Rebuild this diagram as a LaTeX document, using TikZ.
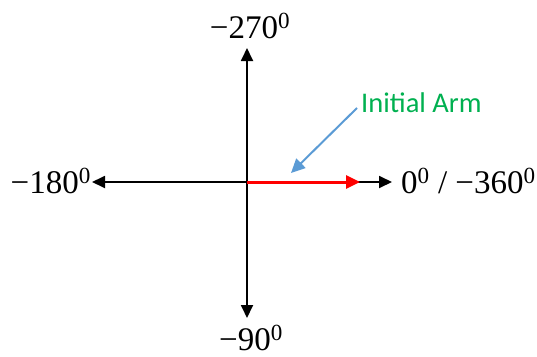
\documentclass[tikz,border=0pt]{standalone}
\usepackage{fontspec}
\setmainfont{Liberation Serif}
\newfontfamily\armfont{Carlito}
\usetikzlibrary{arrows.meta}

\definecolor{armgreen}{RGB}{0,176,80}
\definecolor{pointerblue}{RGB}{91,155,213}

\tikzset{
  axis/.style={line width=1.8pt, -{Triangle[length=13pt,width=12pt]}},
  anglelabel/.style={font=\fontsize{33}{33}\selectfont, inner sep=0pt},
}

\begin{document}
\begin{tikzpicture}[x=1pt, y=-1pt]
  \useasboundingbox (0,0) rectangle (537,356);

  % ================================================================
  % Axes
  % ================================================================

  \coordinate (O) at (247,182);
  \coordinate (westtip)  at (92,182);
  \coordinate (easttip)  at (392,182);
  \coordinate (northtip) at (247,48);
  \coordinate (southtip) at (247,318);

  \draw[axis] (O) -- (westtip);
  \draw[axis] (O) -- (easttip);
  \draw[axis] (O) -- (northtip);
  \draw[axis] (O) -- (southtip);

  % ================================================================
  % Angle labels
  % ================================================================

  \node[anglelabel, anchor=base east] (west) at (91,193)
    {\textminus180\textsuperscript{0}};
  \node[anglelabel, anchor=base west] (east) at (401,193)
    {0\textsuperscript{0} / \textminus360\textsuperscript{0}};
  \node[anglelabel, anchor=base] (north) at (250,38)
    {\textminus270\textsuperscript{0}};
  \node[anglelabel, anchor=base] (south) at (251,350)
    {\textminus90\textsuperscript{0}};

  % ================================================================
  % Initial arm (red) and its pointer
  % ================================================================

  \coordinate (armtip) at (360,182);
  \draw[red, line width=3pt, -{Triangle[length=14pt,width=13pt]}]
    (O) -- (armtip);

  \node[font=\armfont\fontsize{28.5}{28.5}\selectfont, text=armgreen,
        anchor=base west, inner sep=0pt] (arm) at (361,112) {Initial Arm};

  \coordinate (pointstart) at (357,108);
  \coordinate (pointend)   at (291,173);
  \draw[pointerblue, line width=2pt, -{Triangle[length=14pt,width=13pt]}]
    (pointstart) -- (pointend);

\end{tikzpicture}
\end{document}
